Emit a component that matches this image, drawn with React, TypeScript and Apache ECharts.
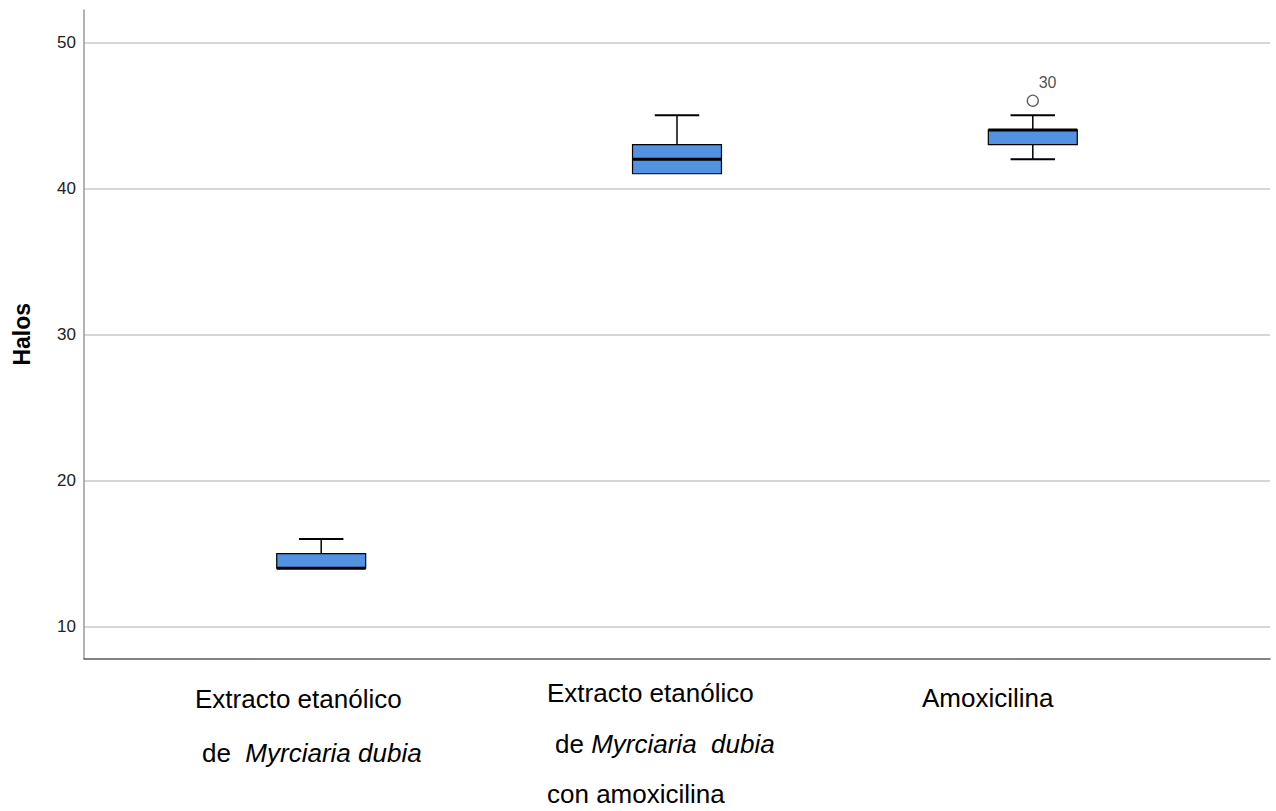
import React, { useEffect, useRef } from "react";
import * as echarts from "echarts";

const categories = [
  "Extracto etanólico de Myrciaria dubia",
  "Extracto etanólico de Myrciaria dubia con amoxicilina",
  "Amoxicilina",
];
const mins = [14, 41, 42];
const q1s = [14, 41, 43];
const medians = [14, 42, 44];
const q3s = [15, 43, 44];
const maxs = [16, 45, 45];
const outliers = [{ cat: 2, value: 46, label: "30" }];
const yTicks = [10, 20, 30, 40, 50];

const FONT = "'Liberation Sans', Arial, sans-serif";

export default function App() {
  const ref = useRef<HTMLDivElement>(null);
  useEffect(() => {
    if (!ref.current) return;
    const chart = echarts.init(ref.current, null, { renderer: "svg" });
    const boxData = categories.map((_, i) => [i, mins[i], q1s[i], medians[i], q3s[i], maxs[i]]);
    const outData = outliers.map((o) => ({ value: [o.cat, o.value], name: o.label }));

    const labelText = (x: number, y: number, text: string, rich?: any) => ({
      type: "text",
      x,
      y,
      style: {
        text,
        fontSize: 26,
        fontFamily: FONT,
        fill: "#000",
        align: "left",
        verticalAlign: "middle",
        rich,
      },
    });
    const rich = {
      n: { fontSize: 26, fontFamily: FONT, fill: "#000", color: "#000" },
      i: { fontSize: 26, fontFamily: FONT, fontStyle: "italic", fill: "#000", color: "#000" },
    };

    chart.setOption({
      animation: false,
      backgroundColor: "#fff",
      grid: { left: 84, right: 6, top: 10, bottom: 152.5, containLabel: false, outerBoundsMode: "none" },
      xAxis: {
        type: "value",
        min: -2 / 3,
        max: 8 / 3,
        axisLabel: { show: false },
        axisTick: { show: false },
        splitLine: { show: false },
        axisLine: { show: true, onZero: false, lineStyle: { color: "#5a5a5a", width: 1.5 } },
      },
      yAxis: {
        type: "value",
        min: 7.82,
        max: 52.21,
        name: "Halos",
        nameLocation: "middle",
        nameGap: 51,
        nameTextStyle: { fontSize: 23, fontWeight: "bold", fontFamily: FONT, color: "#000" },
        axisLine: { show: true, onZero: false, lineStyle: { color: "#9a9a9a", width: 1.5 } },
        axisTick: { show: false, customValues: yTicks },
        axisLabel: {
          customValues: yTicks,
          fontSize: 17,
          fontFamily: FONT,
          color: "#222",
          margin: 8,
        },
        splitLine: { show: true, lineStyle: { color: "#c8c8c8", width: 1.5 } },
      },
      series: [
        {
          type: "custom",
          data: boxData,
          encode: { x: 0, y: [1, 2, 3, 4, 5] },
          renderItem: (params: any, api: any) => {
            const x = api.value(0);
            const lo = api.coord([x, api.value(1)]);
            const q1 = api.coord([x, api.value(2)]);
            const med = api.coord([x, api.value(3)]);
            const q3 = api.coord([x, api.value(4)]);
            const hi = api.coord([x, api.value(5)]);
            const half = api.size([0.125, 0])[0];
            const cap = half / 2;
            const cx = lo[0];
            const children: any[] = [];
            const line = (x1: number, y1: number, x2: number, y2: number, w: number) => ({
              type: "line",
              shape: { x1, y1, x2, y2 },
              style: { stroke: "#000", lineWidth: w },
            });
            if (hi[1] < q3[1]) {
              children.push(line(cx, q3[1], cx, hi[1], 1.5));
              children.push(line(cx - cap, hi[1], cx + cap, hi[1], 2));
            }
            if (lo[1] > q1[1]) {
              children.push(line(cx, q1[1], cx, lo[1], 1.5));
              children.push(line(cx - cap, lo[1], cx + cap, lo[1], 2));
            }
            children.push({
              type: "rect",
              shape: { x: cx - half, y: q3[1], width: half * 2, height: q1[1] - q3[1] },
              style: { fill: "#5292e0", stroke: "#000", lineWidth: 1.2 },
            });
            children.push(line(cx - half, med[1], cx + half, med[1], 3));
            return { type: "group", children };
          },
          z: 3,
        },
        {
          type: "scatter",
          data: outData,
          symbol: "circle",
          symbolSize: 11,
          itemStyle: { color: "#fff", borderColor: "#333", borderWidth: 1.3 },
          label: {
            show: true,
            formatter: (p: any) => p.name,
            position: [12, -12],
            align: "left",
            verticalAlign: "middle",
            fontSize: 16,
            fontFamily: FONT,
            color: "#222",
          },
          z: 4,
        },
      ],
      graphic: [
        labelText(195, 699, "Extracto etanólico"),
        labelText(202, 753, "{n|de}  {i|Myrciaria dubia}", rich),
        labelText(547, 693, "Extracto etanólico"),
        labelText(555, 744, "{n|de} {i|Myrciaria  dubia}", rich),
        labelText(547, 794, "con amoxicilina"),
        labelText(922, 698, "Amoxicilina"),
      ],
    });
    return () => chart.dispose();
  }, []);
  return (
    <div
      ref={ref}
      style={{ position: "fixed", left: 0, top: 0, width: 1276, height: 811, background: "#fff" }}
    />
  );
}
